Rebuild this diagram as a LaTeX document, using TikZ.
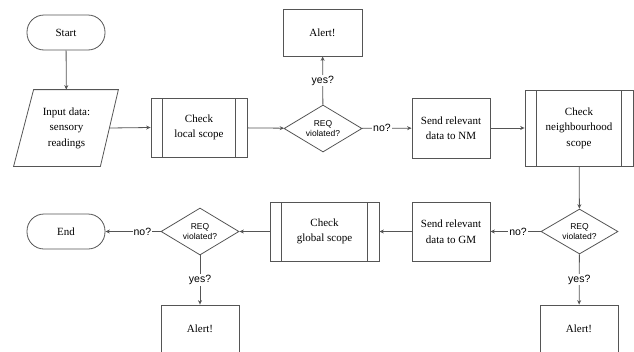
\documentclass[tikz,border=0pt]{standalone}
\usepackage{fontspec}
\setmainfont{Liberation Serif}
\setsansfont{Liberation Sans}
\usetikzlibrary{shapes.geometric,arrows.meta,calc}
\definecolor{ln}{HTML}{555555}
\tikzset{
  base/.style={draw=ln, line width=0.8pt, align=center, inner sep=0pt, text=black,
     font=\fontsize{11}{15.5}\selectfont},
  term/.style={base, rectangle, rounded corners=17pt, minimum width=78pt, minimum height=35pt},
  proc/.style={base, rectangle, minimum width=78pt, minimum height=60pt},
  alertbox/.style={base, rectangle, minimum width=78pt, minimum height=47pt},
  pproc/.style={base, rectangle, minimum height=59pt,
     path picture={\draw[ln, line width=0.8pt]
       ([xshift=11.5pt]path picture bounding box.north west) -- ([xshift=11.5pt]path picture bounding box.south west)
       ([xshift=-11.5pt]path picture bounding box.north east) -- ([xshift=-11.5pt]path picture bounding box.south east);}},
  decide/.style={base, diamond, aspect=1.66, minimum width=78pt, minimum height=47pt,
     font=\sffamily\fontsize{8.5}{10.5}\selectfont},
  flow/.style={draw=ln, line width=0.8pt, -{Stealth[length=4.5pt,width=4pt]}},
  lab/.style={fill=white, inner sep=1pt, text=black, font=\sffamily\fontsize{10.5}{12}\selectfont}
}
\begin{document}
\begin{tikzpicture}[x=1pt, y=-1pt]
\useasboundingbox (0,0) rectangle (634,351);
\node[term] (start) at (66,32.5) {Start};
\node[base, draw=none, minimum width=85pt, minimum height=76pt] (in) at (66.5,128) {Input data:\\sensory\\readings};
\draw[ln, line width=0.8pt] ($(in.north west)+(10,0)$) -- ($(in.north east)+(9,0)$) -- ($(in.south east)+(-9,0)$) -- ($(in.south west)+(-10,0)$) -- cycle;
\node[pproc, minimum width=96pt] (cl) at (199,127.5) {Check\\local scope};
\node[decide] (d1) at (323,128.5) {REQ\\violated?};
\node[alertbox, minimum width=79pt] (a1) at (322.5,32.5) {Alert!};
\node[proc] (nm) at (451,128) {Send relevant\\data to NM};
\node[pproc, minimum width=108pt, minimum height=76pt] (cn) at (579,128) {Check\\neighbourhood\\scope};
\node[decide, minimum width=77pt, minimum height=45pt] (d2) at (579.5,231.5) {REQ\\violated?};
\node[alertbox] (a3) at (579,328.5) {Alert!};
\node[proc, minimum height=59pt] (gm) at (451,231.5) {Send relevant\\data to GM};
\node[pproc, minimum width=109pt] (cg) at (324.5,231.5) {Check\\global scope};
\node[decide] (d3) at (200,231.5) {REQ\\violated?};
\node[term] (end) at (66,231.5) {End};
\node[alertbox] (a2) at (200,328.5) {Alert!};

\draw[flow] (start) -- (in);
\draw[flow] (in.east) -- (cl.west);
\draw[flow] (cl) -- (d1);
\draw[flow] (d1) -- node[lab] {yes?} (a1);
\draw[flow] (d1) -- node[lab, pos=0.4] {no?} (nm);
\draw[flow] (nm) -- (cn);
\draw[flow] (cn) -- (d2);
\draw[flow] (d2) -- node[lab] {yes?} (a3);
\draw[flow] (d2) -- node[lab, pos=0.45] {no?} (gm);
\draw[flow] (gm) -- (cg);
\draw[flow] (cg) -- (d3);
\draw[flow] (d3) -- node[lab] {yes?} (a2);
\draw[flow] (d3) -- node[lab, pos=0.33] {no?} (end);
\end{tikzpicture}
\end{document}
